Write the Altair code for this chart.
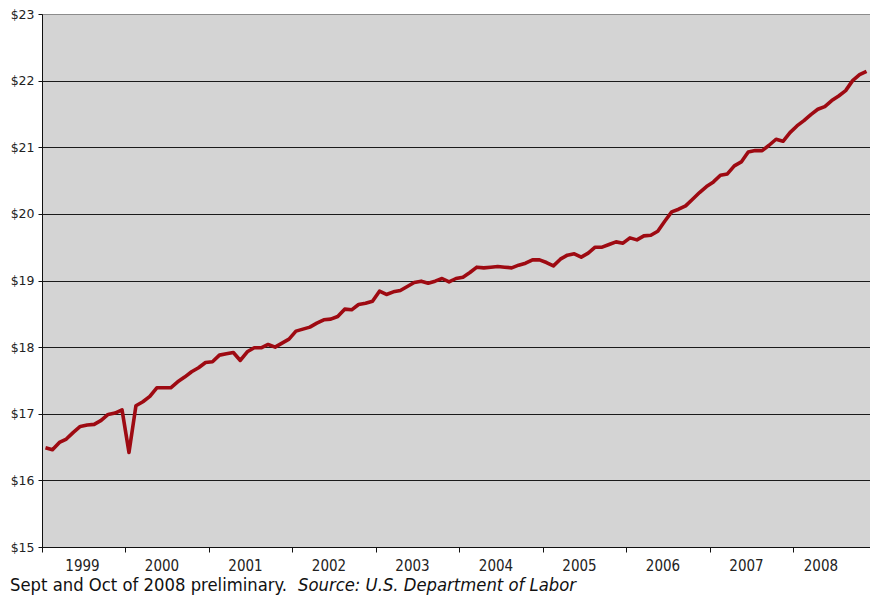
import altair as alt
import pandas as pd

# Average hourly earnings, monthly
wages = [
    16.49, 16.46, 16.57, 16.62, 16.72, 16.81, 16.83, 16.84, 16.90, 16.99, 17.01, 17.06,
    16.42, 17.12, 17.18, 17.26, 17.39, 17.39, 17.39, 17.48, 17.55, 17.63, 17.69, 17.77,
    17.78, 17.88, 17.90, 17.92, 17.80, 17.93, 17.99, 17.99, 18.04, 18.00, 18.06, 18.12,
    18.24, 18.27, 18.30, 18.36, 18.41, 18.42, 18.46, 18.57, 18.56, 18.64, 18.66, 18.69,
    18.84, 18.79, 18.83, 18.85, 18.91, 18.97, 18.99, 18.96, 18.99, 19.03, 18.98, 19.03,
    19.05, 19.12, 19.20, 19.19, 19.20, 19.21, 19.20, 19.19, 19.23, 19.26, 19.31, 19.31,
    19.27, 19.22, 19.32, 19.38, 19.40, 19.35, 19.41, 19.50, 19.50, 19.54, 19.58, 19.56,
    19.64, 19.61, 19.67, 19.68, 19.74, 19.89, 20.03, 20.07, 20.12, 20.22, 20.32, 20.41,
    20.48, 20.58, 20.60, 20.72, 20.78, 20.93, 20.95, 20.95, 21.03, 21.12, 21.09, 21.22,
    21.32, 21.40, 21.49, 21.57, 21.61, 21.70, 21.77, 21.85, 22.00, 22.09, 22.14,
]
years = list(range(1999, 2009))
y_ticks = [15, 16, 17, 18, 19, 20, 21, 22, 23]
note = "Sept and Oct of 2008 preliminary."
source = "Source: U.S. Department of Labor"

df = pd.DataFrame({"i": list(range(len(wages))), "wage": wages})
n = len(wages)
year_ticks = [12 * k for k in range(len(years))]

cond = "DejaVu Sans Condensed"

line = alt.Chart(df).transform_calculate(pos="datum.i + 0.5").mark_line(
    color="#9e0a12", strokeWidth=3.6, strokeJoin="round"
).encode(
    x=alt.X(
        "pos:Q",
        scale=alt.Scale(domain=[0, n], nice=False, zero=False),
        axis=alt.Axis(
            values=year_ticks,
            labelExpr=f"'' + ({years[0]} + datum.value / 12)",
            title=None,
            grid=False,
            domainColor="#111111",
            tickColor="#111111",
            tickSize=5,
            labelPadding=6,
            labelFlush=False,
            labelOverlap=False,
            labelFont=cond,
            labelFontSize=15,
            labelColor="#222222",
            labelOffset={"condition": [
                {"test": "datum.value == 0", "value": 40},
                {"test": "datum.value == 108", "value": 27},
            ], "value": 36},
        ),
    ),
    y=alt.Y(
        "wage:Q",
        scale=alt.Scale(domain=[y_ticks[0], y_ticks[-1]], nice=False, zero=False),
        axis=alt.Axis(
            values=y_ticks,
            labelExpr="'$' + datum.value",
            title=None,
            grid=True,
            gridColor={"condition": {"test": "datum.value == 23", "value": "#8c8c8c"}, "value": "#1a1a1a"},
            gridOpacity=1,
            gridWidth=1,
            domainColor="#111111",
            tickColor="#111111",
            tickSize=4,
            labelPadding=4,
            labelFont="DejaVu Sans",
            labelFontSize=12.5,
            labelColor="#222222",
        ),
    ),
)

note_text = alt.Chart(pd.DataFrame({"t": [note]})).mark_text(
    align="left", baseline="alphabetic", font=cond, fontSize=18.3, color="#111111"
).encode(text="t:N", x=alt.value(-32), y=alt.value(577))

source_text = alt.Chart(pd.DataFrame({"t": [source]})).mark_text(
    align="left", baseline="alphabetic", font=cond, fontSize=18.3, fontStyle="italic", color="#111111"
).encode(text="t:N", x=alt.value(256), y=alt.value(577))

chart = alt.layer(line, note_text, source_text).properties(
    width=828,
    height=533,
    autosize=alt.AutoSizeParams(type="none"),
    padding={"left": 34, "top": 6, "right": 0, "bottom": 48},
    background="white",
).configure_view(
    fill="#d4d4d4", stroke="#8c8c8c", strokeWidth=1
)

chart.save("out.html", embed_options={"renderer": "svg", "actions": False})
